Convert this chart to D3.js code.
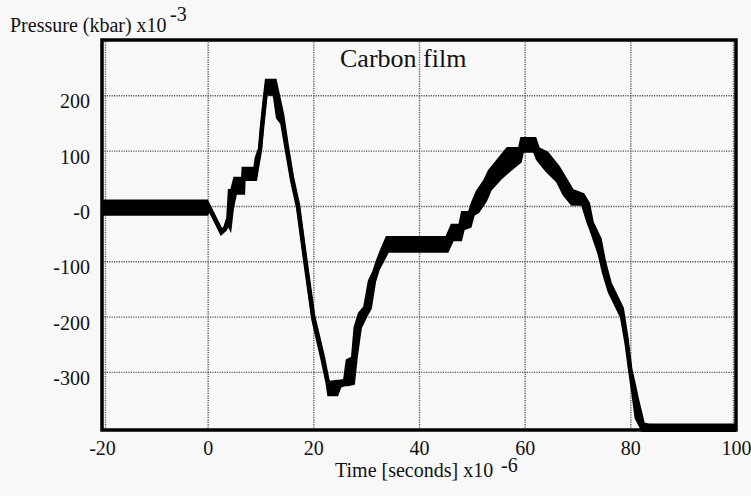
<!DOCTYPE html>
<html>
<head>
<meta charset="utf-8">
<script src="https://cdn.jsdelivr.net/npm/d3@7"></script>
</head>
<body style="margin:0;background:#f8f8f8">
<svg id="chart" width="751" height="496"></svg>
<script>
// time in microseconds, pressure envelope (kbar x10^-3)
var time = [-20, -0.2, 0.4, 1.5, 2.6, 3.3, 3.9, 4.2, 4.6, 5.2, 6.7, 6.8, 9.0, 9.3, 9.9, 10.3, 10.9, 11.2, 11.7, 11.9, 12.2, 12.7, 13.3, 14.1,
  15.0, 16.0, 17.1, 18.5, 20.0, 21.8, 22.7, 23.0, 24.4, 25.0, 26.0, 26.5, 27.5, 28.0, 28.8, 29.8, 30.7, 31.5, 32.2, 33.0, 34.0,
  45.3, 46.3, 47.8, 48.3, 49.6, 50.2, 51.1, 52.5, 53.4, 55.3, 56.8, 59.1, 59.5, 61.9, 62.5, 64.2, 66.3, 67.5, 69.0, 71.0, 72.0,
  72.7, 74.2, 75.0, 76.1, 78.4, 79.3, 80.0, 80.6, 81.2, 82.4, 83.5, 100];
var pHigh = [8, 8, -4, -25, -46, -40, -22, 27, 27, 49, 49, 67, 67, 87, 103, 148, 202, 226, 226, 200, 226, 226, 200, 165,
  108, 50, 3, -97, -200, -272, -316, -320, -318, -318, -316, -280, -275, -220, -195, -184, -136, -120, -100, -80, -58,
  -58, -36, -36, -13, -13, 5, 25, 45, 63, 85, 103, 103, 121, 121, 103, 95, 70, 51, 27, 20, 4,
  -30, -60, -100, -140, -185, -240, -295, -320, -347, -395, -397, -397];
var pLow = [-14, -14, -6, -27, -48, -42, -30, -36, -3, 24, 24, 49, 49, 67, 100, 140, 195, 215, 210, 200, 215, 200, 160, 150,
  100, 45, -3, -103, -205, -280, -320, -340, -340, -325, -322, -322, -320, -275, -220, -200, -184, -136, -114, -100, -81,
  -81, -60, -60, -41, -36, -15, -10, 10, 30, 50, 63, 81, 100, 100, 85, 65, 45, 22, 4, 4, -27,
  -45, -87, -120, -155, -200, -250, -300, -340, -383, -405, -405, -405];

var xTicks = [-20, 0, 20, 40, 60, 80, 100];
var yTicks = [200, 100, 0, -100, -200, -300];

var fontName = 'Liberation Serif';

var svg = d3.select('#chart').attr('font-family', fontName);
var margin = { left: 102, right: 15, top: 40, bottom: 66 };
var width = 751 - margin.left - margin.right;
var height = 496 - margin.top - margin.bottom;

var x = d3.scaleLinear().domain([-20, 100]).range([0, width]);
var y = d3.scaleLinear().domain([-405, 300]).range([height, 0]);

var g = svg.append('g').attr('transform', 'translate(' + margin.left + ',' + margin.top + ')');

// dotted grid
var xAxis = g.append('g')
    .attr('transform', 'translate(0,' + height + ')')
    .call(d3.axisBottom(x).tickValues(xTicks).tickSize(-height).tickPadding(11)
        .tickFormat(d => String(d)));
var yAxis = g.append('g')
    .call(d3.axisLeft(y).tickValues(yTicks).tickSize(-width).tickPadding(12)
        .tickFormat(d => d === 0 ? '-0' : String(d)));

[xAxis, yAxis].forEach(a => {
    a.attr('font-family', null).attr('font-size', null);
    a.select('.domain').remove();
    a.selectAll('line')
        .attr('stroke', '#555')
        .attr('stroke-width', 1.4)
        .attr('stroke-dasharray', '1.2,1.2');
    a.selectAll('text')
        .attr('fill', '#111')
        .style('font-family', fontName)
        .style('font-size', '20px');
});
xAxis.selectAll('line').attr('transform', d => d === -20 ? 'translate(3,0)' : d === 100 ? 'translate(-3,0)' : null);
yAxis.selectAll('text').attr('dy', '0.62em').attr('x', -12);

// trace
var area = d3.area()
    .x((d, i) => x(time[i]))
    .y0((d, i) => y(pLow[i]))
    .y1((d, i) => y(pHigh[i]));
var lineHi = d3.line().x((d, i) => x(time[i])).y((d, i) => y(pHigh[i]));
var lineLo = d3.line().x((d, i) => x(time[i])).y((d, i) => y(pLow[i]));

g.append('path').datum(time).attr('d', area).attr('fill', '#000');
[lineHi, lineLo].forEach(l => {
    g.append('path').datum(time).attr('d', l)
        .attr('fill', 'none').attr('stroke', '#000').attr('stroke-width', 4.2)
        .attr('stroke-linejoin', 'miter');
});

// frame
g.append('rect')
    .attr('x', 0).attr('y', 0).attr('width', width).attr('height', height)
    .attr('fill', 'none').attr('stroke', '#000').attr('stroke-width', 3.5);

// title and axis labels
var label = (sel, px, py, size, str) => sel.append('text')
    .attr('x', px).attr('y', py)
    .attr('fill', '#111')
    .style('font-family', fontName)
    .style('font-size', size + 'px')
    .text(str);

label(g, 238, 27, 26, 'Carbon film');
label(svg, 10, 32, 20, 'Pressure (kbar) x10');
label(svg, 170, 21, 20, '-3');
label(svg, 335, 477, 20, 'Time [seconds] x10');
label(svg, 501, 472, 20, '-6');
</script>
</body>
</html>
